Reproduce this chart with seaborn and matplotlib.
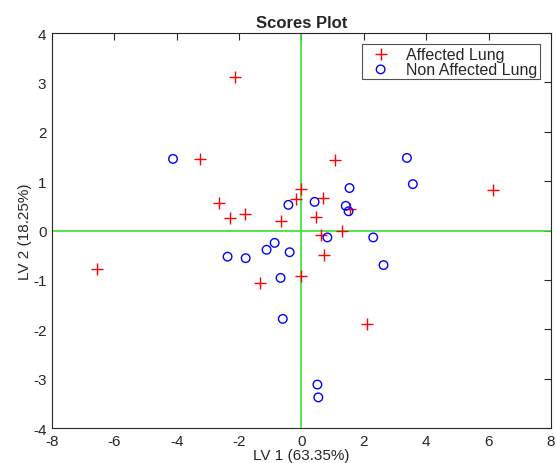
import matplotlib
matplotlib.use('Agg')
import matplotlib.pyplot as plt
import pandas as pd
import seaborn as sns

# scores
affected_x = [-2.13, -3.25, -2.64, -2.29, -1.81, -0.66, -1.33, -6.55, -0.17, 0.00,
              1.08, 0.70, 0.46, 1.55, 1.31, 0.62, 0.72, -0.03, 2.09, 6.13]
affected_y = [3.11, 1.45, 0.56, 0.25, 0.33, 0.19, -1.06, -0.78, 0.63, 0.84,
              1.42, 0.65, 0.28, 0.43, 0.00, -0.10, -0.49, -0.92, -1.89, 0.83]
nonaff_x = [-4.12, -2.37, -1.79, -1.12, -0.86, -0.38, -0.67, -0.60, -0.42, 0.42,
            1.54, 1.42, 1.51, 0.83, 2.30, 2.63, 3.38, 3.57, 0.51, 0.54]
nonaff_y = [1.45, -0.53, -0.56, -0.39, -0.25, -0.44, -0.96, -1.79, 0.52, 0.58,
            0.86, 0.50, 0.39, -0.14, -0.14, -0.70, 1.47, 0.94, -3.12, -3.38]

x_ticks = list(range(-8, 9, 2))
y_ticks = list(range(-4, 5, 1))

sns.set_style('white')
plt.rcParams['font.family'] = ['Liberation Sans', 'DejaVu Sans']
plt.rcParams['axes.unicode_minus'] = False

aff = pd.DataFrame({'lv1': affected_x, 'lv2': affected_y})
non = pd.DataFrame({'lv1': nonaff_x, 'lv2': nonaff_y})

fig = plt.figure(figsize=(5.56, 4.64), dpi=100)
ax = fig.add_axes([0.0935, 0.0754, 0.8975, 0.8513])

ax.axhline(0, color='#33e033', lw=1.2, zorder=1)
ax.axvline(0, color='#33e033', lw=1.2, zorder=1)

sns.scatterplot(data=aff, x='lv1', y='lv2', marker='+', color='red', s=65,
                linewidth=1.0, label='Affected Lung', ax=ax, zorder=3)
sns.scatterplot(data=non, x='lv1', y='lv2', marker='o', s=38, facecolors='none',
                edgecolors='blue', linewidth=1.0, label='Non Affected Lung', ax=ax, zorder=3)

ax.set_xlim(-8, 8)
ax.set_ylim(-4, 4)
ax.set_xticks(x_ticks)
ax.set_yticks(y_ticks)
ax.tick_params(direction='in', top=True, right=True, length=5, width=0.8,
               labelsize=11, colors='#262626', pad=4)
for sp in ax.spines.values():
    sp.set_color('#262626')
    sp.set_linewidth(0.8)

ax.set_xlabel('LV 1 (63.35%)', fontsize=11, color='#262626', labelpad=0)
ax.set_ylabel('LV 2 (18.25%)', fontsize=11, color='#262626', labelpad=1)
ax.set_title('Scores Plot', fontsize=12, fontweight='bold', pad=4)

leg = ax.legend(loc='upper right', fontsize=11.5, frameon=True, fancybox=False,
                borderpad=0.15, labelspacing=0.0, handletextpad=0.6,
                borderaxespad=0.7, handlelength=2.0)
leg.get_frame().set_edgecolor('#262626')
leg.get_frame().set_linewidth(0.8)

fig.savefig('out.png', dpi=100)
